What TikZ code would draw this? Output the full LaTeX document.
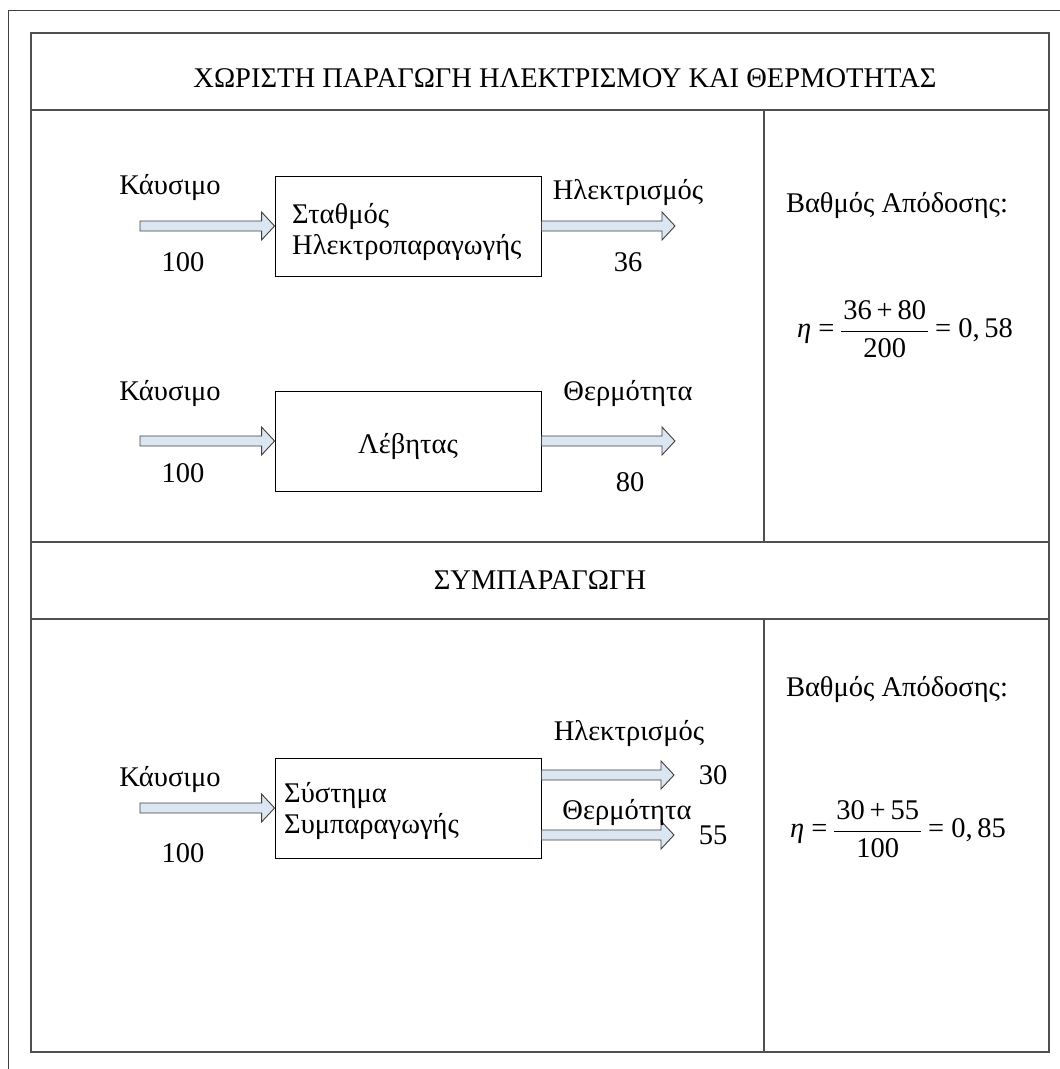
\documentclass[tikz,border=0pt]{standalone}
\usepackage{fontspec}
\setmainfont{Liberation Serif}
\usetikzlibrary{calc}

\definecolor{framegray}{HTML}{505050}
\definecolor{arrowfill}{HTML}{DCE6F2}
\definecolor{arrowline}{HTML}{404040}

\tikzset{
  panel/.style={draw=framegray, line width=1.3pt},
  outerline/.style={draw=black!75, line width=0.8pt},
  label/.style={font=\fontsize{28.5}{31}\selectfont, inner sep=0pt},
  unitbox/.style={draw=black, line width=0.9pt, minimum width=266pt,
    minimum height=100pt, inner sep=0pt, font=\fontsize{28.5}{31}\selectfont},
  fatarrow/.style={draw=arrowline, fill=arrowfill, line width=0.9pt, line join=miter},
}

% block arrow from #1 to #2 (horizontal, pointing right)
\newcommand\blockarrow[2]{%
  \draw[fatarrow] ($(#1)+(0,-5)$) -- ($(#2)+(-13,-5)$) -- ($(#2)+(-13,-14)$)
    -- (#2) -- ($(#2)+(-13,14)$) -- ($(#2)+(-13,5)$) -- ($(#1)+(0,5)$) -- cycle;}

% efficiency formula: eta = num/den = result
\newcommand\effformula[3]{%
  {\itshape η}\ =\ \renewcommand\arraystretch{1.2}\setlength\arrayrulewidth{1pt}%
  \begin{tabular}{@{\hspace{2pt}}c@{\hspace{2pt}}}#1\\\hline #2\end{tabular}\ =\ #3}

\begin{document}
\begin{tikzpicture}[x=1pt, y=-1pt]
  \useasboundingbox (0,0) rectangle (1060,1069);
  \fill[white] (0,0) rectangle (1060,1069);

  % outer frame (top and left edges)
  \draw[outerline] (8,1069) -- (8,10) -- (1060,10);

  % panels
  \draw[panel] (31,33) rectangle (1049,110);
  \draw[panel] (31,110) rectangle (764,542);
  \draw[panel] (764,110) rectangle (1049,542);
  \draw[panel] (31,542) rectangle (1049,619);
  \draw[panel] (31,619) rectangle (764,1052);
  \draw[panel] (764,619) rectangle (1049,1052);

  % headings
  \node[label] (head1) at (565,78) {ΧΩΡΙΣΤΗ ΠΑΡΑΓΩΓΗ ΗΛΕΚΤΡΙΣΜΟΥ ΚΑΙ ΘΕΡΜΟΤΗΤΑΣ};
  \node[label] (head2) at (540,580) {ΣΥΜΠΑΡΑΓΩΓΗ};

  % ---- separate production ----
  \node[unitbox] (plant) at (408,226) {};
  \node[label, anchor=west, align=left] (plantname) at (292,232) {Σταθμός\\Ηλεκτροπαραγωγής};
  \node[unitbox] (boiler) at (408,441) {};
  \node[label] (boilername) at (408,446) {Λέβητας};

  \coordinate (fuel1) at (140,226);
  \coordinate (elec1) at (675,226);
  \coordinate (fuel2) at (140,441);
  \coordinate (heat2) at (675,441);
  \blockarrow{fuel1}{plant.west}
  \blockarrow{plant.east}{elec1}
  \blockarrow{fuel2}{boiler.west}
  \blockarrow{boiler.east}{heat2}

  \node[label] (fuel1lbl) at (170,187) {Κάυσιμο};
  \node[label] (fuel1val) at (183,262) {100};
  \node[label] (elec1lbl) at (628,192) {Ηλεκτρισμός};
  \node[label] (elec1val) at (628,262) {36};
  \node[label] (fuel2lbl) at (170,393) {Κάυσιμο};
  \node[label] (fuel2val) at (183,473) {100};
  \node[label] (heat2lbl) at (628,393) {Θερμότητα};
  \node[label] (heat2val) at (630,482) {80};

  \node[label] (eff1lbl) at (897,205) {Βαθμός Απόδοσης:};
  \node[label] (eff1) at (905,331) {\effformula{36\,+\,80}{200}{0,\,58}};

  % ---- cogeneration ----
  \node[unitbox] (chp) at (408,808) {};
  \node[label, anchor=west, align=left] (chpname) at (284,811) {Σύστημα\\Συμπαραγωγής};

  \coordinate (fuel3) at (140,808);
  \coordinate (elec3) at (674,775);
  \coordinate (heat3) at (674,835);
  \coordinate (elec3s) at (chp.east |- elec3);
  \coordinate (heat3s) at (chp.east |- heat3);
  \blockarrow{fuel3}{chp.west}
  \blockarrow{elec3s}{elec3}
  \blockarrow{heat3s}{heat3}

  \node[label] (fuel3lbl) at (170,779) {Κάυσιμο};
  \node[label] (fuel3val) at (183,853) {100};
  \node[label] (elec3lbl) at (629,733) {Ηλεκτρισμός};
  \node[label] (elec3val) at (713,775) {30};
  \node[label] (heat3lbl) at (627,812) {Θερμότητα};
  \node[label] (heat3val) at (713,835) {55};

  \node[label] (eff2lbl) at (897,689) {Βαθμός Απόδοσης:};
  \node[label] (eff2) at (898,831) {\effformula{30\,+\,55}{100}{0,\,85}};
\end{tikzpicture}
\end{document}
